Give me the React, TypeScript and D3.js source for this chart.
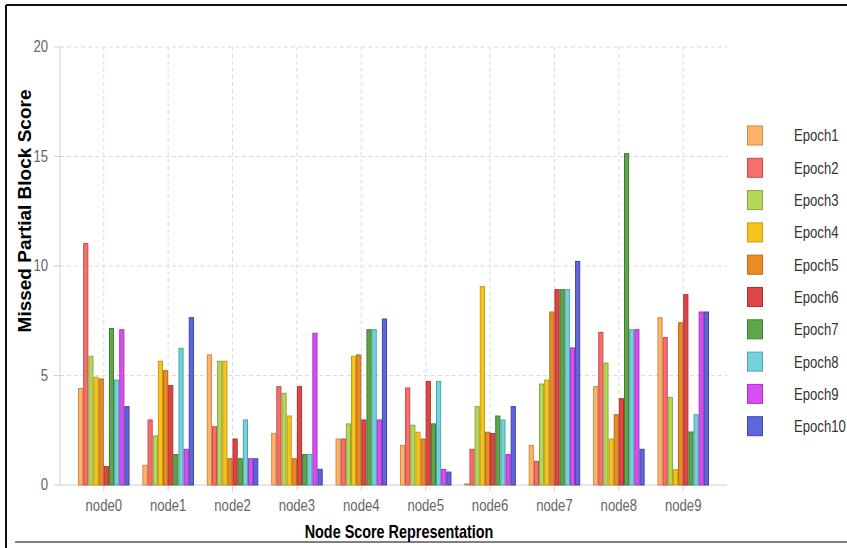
import React from "react";
import * as d3 from "d3";

const nodes = ["node0", "node1", "node2", "node3", "node4", "node5", "node6", "node7", "node8", "node9"];
const epochs = ["Epoch1", "Epoch2", "Epoch3", "Epoch4", "Epoch5", "Epoch6", "Epoch7", "Epoch8", "Epoch9", "Epoch10"];
const yTicks = [0, 5, 10, 15, 20];

// values per node, one entry per epoch
const node0 = [4.41, 11.03, 5.88, 4.92, 4.84, 0.84, 7.15, 4.79, 7.09, 3.58];
const node1 = [0.9, 2.97, 2.24, 5.65, 5.22, 4.54, 1.39, 6.24, 1.63, 7.64];
const node2 = [5.94, 2.66, 5.65, 5.65, 1.2, 2.1, 1.2, 2.97, 1.2, 1.2];
const node3 = [2.36, 4.49, 4.19, 3.15, 1.2, 4.49, 1.39, 1.39, 6.93, 0.72];
const node4 = [2.1, 2.1, 2.79, 5.88, 5.94, 2.97, 7.09, 7.09, 2.97, 7.58];
const node5 = [1.81, 4.43, 2.73, 2.41, 2.1, 4.73, 2.79, 4.73, 0.71, 0.59];
const node6 = [0.05, 1.63, 3.58, 9.06, 2.41, 2.35, 3.15, 2.97, 1.39, 3.58];
const node7 = [1.81, 1.08, 4.61, 4.79, 7.9, 8.92, 8.92, 8.92, 6.26, 10.21];
const node8 = [4.49, 6.97, 5.57, 2.1, 3.21, 3.94, 15.13, 7.09, 7.09, 1.63];
const node9 = [7.64, 6.73, 4.0, 0.7, 7.41, 8.69, 2.42, 3.21, 7.9, 7.9];
const values = [node0, node1, node2, node3, node4, node5, node6, node7, node8, node9];

const fills = ["#fdb46a", "#f86e6e", "#b6d65a", "#f6c51c", "#ea8b28", "#e04545", "#5ea647", "#73d2da", "#d94ef2", "#5e66dc"];
const strokes = ["#d08a45", "#c84c4c", "#8aa83c", "#c89a10", "#b86a18", "#b03030", "#437a32", "#4fa5ad", "#a834c0", "#3e45a8"];

const W = 847;
const H = 548;
const left = 60, right = 727, top = 47, bottom = 485;
const FONT = "'Liberation Sans', Arial, sans-serif";

export default function App() {
  const x0 = d3.scaleBand<string>().domain(nodes).range([left, right]).paddingInner(0.2).paddingOuter(0.28);
  const x1 = d3.scaleBand<string>().domain(epochs).range([0, x0.bandwidth()]).padding(0);
  const y = d3.scaleLinear().domain([0, 20]).range([bottom, top]);

  return (
    <svg width={W} height={H} style={{ position: "fixed", left: 0, top: 0, background: "#fff" }} fontFamily={FONT}>
      <rect x={0} y={0} width={W} height={H} fill="#fff" />
      {/* frame */}
      <line x1={6} y1={5} x2={W} y2={5} stroke="#111" strokeWidth={2} />
      <line x1={6} y1={5} x2={6} y2={H} stroke="#111" strokeWidth={2} />
      <line x1={15} y1={542} x2={W} y2={542} stroke="#555" strokeWidth={1.5} />

      {/* horizontal grid */}
      {yTicks.filter((t) => t > 0).map((t) => (
        <line key={"h" + t} x1={left} x2={right} y1={y(t)} y2={y(t)} stroke="#dcdcdc" strokeDasharray="4,3" />
      ))}
      {/* vertical grid */}
      {nodes.map((n) => {
        const cx = (x0(n) as number) + x0.bandwidth() / 2;
        return <line key={"v" + n} x1={cx} x2={cx} y1={top} y2={bottom} stroke="#dcdcdc" strokeDasharray="4,3" />;
      })}
      {/* axes */}
      <line x1={left} x2={left} y1={top} y2={bottom} stroke="#cfcfcf" />
      <line x1={left} x2={right} y1={bottom} y2={bottom} stroke="#cfcfcf" />
      {yTicks.map((t) => (
        <g key={"yt" + t}>
          <line x1={left - 6} x2={left} y1={y(t)} y2={y(t)} stroke="#cfcfcf" />
          <text
            transform={`translate(${left - 12},${y(t)}) scale(0.82,1)`}
            textAnchor="end"
            dominantBaseline="central"
            fontSize={16}
            fill="#666"
          >
            {t}
          </text>
        </g>
      ))}
      {nodes.map((n) => {
        const cx = (x0(n) as number) + x0.bandwidth() / 2;
        return (
          <g key={"xt" + n}>
            <line x1={cx} x2={cx} y1={bottom} y2={bottom + 6} stroke="#cfcfcf" />
            <text transform={`translate(${cx},${bottom + 26}) scale(0.82,1)`} textAnchor="middle" fontSize={16} fill="#666">
              {n}
            </text>
          </g>
        );
      })}

      {/* bars */}
      {nodes.map((n, i) => (
        <g key={"g" + n} transform={`translate(${x0(n)},0)`}>
          {epochs.map((e, j) => {
            const v = values[i][j];
            return (
              <rect
                key={e}
                x={(x1(e) as number) + 0.5}
                y={y(v)}
                width={x1.bandwidth() - 1}
                height={bottom - y(v)}
                fill={fills[j]}
                stroke={strokes[j]}
                strokeWidth={1}
              />
            );
          })}
        </g>
      ))}

      {/* legend */}
      {epochs.map((e, j) => {
        const ly = 126 + j * 32.3;
        return (
          <g key={"l" + e}>
            <rect x={747.5} y={ly} width={15} height={19} fill={fills[j]} stroke={strokes[j]} strokeWidth={1} />
            <text transform={`translate(794,${ly + 10}) scale(0.82,1)`} dominantBaseline="central" fontSize={16} fill="#333">
              {e}
            </text>
          </g>
        );
      })}

      {/* titles */}
      <text
        transform={`translate(399,538) scale(0.8,1)`}
        textAnchor="middle"
        fontSize={18}
        fontWeight="bold"
        fill="#000"
      >
        Node Score Representation
      </text>
      <text
        transform={`translate(31,211) rotate(-90)`}
        textAnchor="middle"
        fontSize={19}
        fontWeight="bold"
        fill="#000"
      >
        Missed Partial Block Score
      </text>
    </svg>
  );
}
